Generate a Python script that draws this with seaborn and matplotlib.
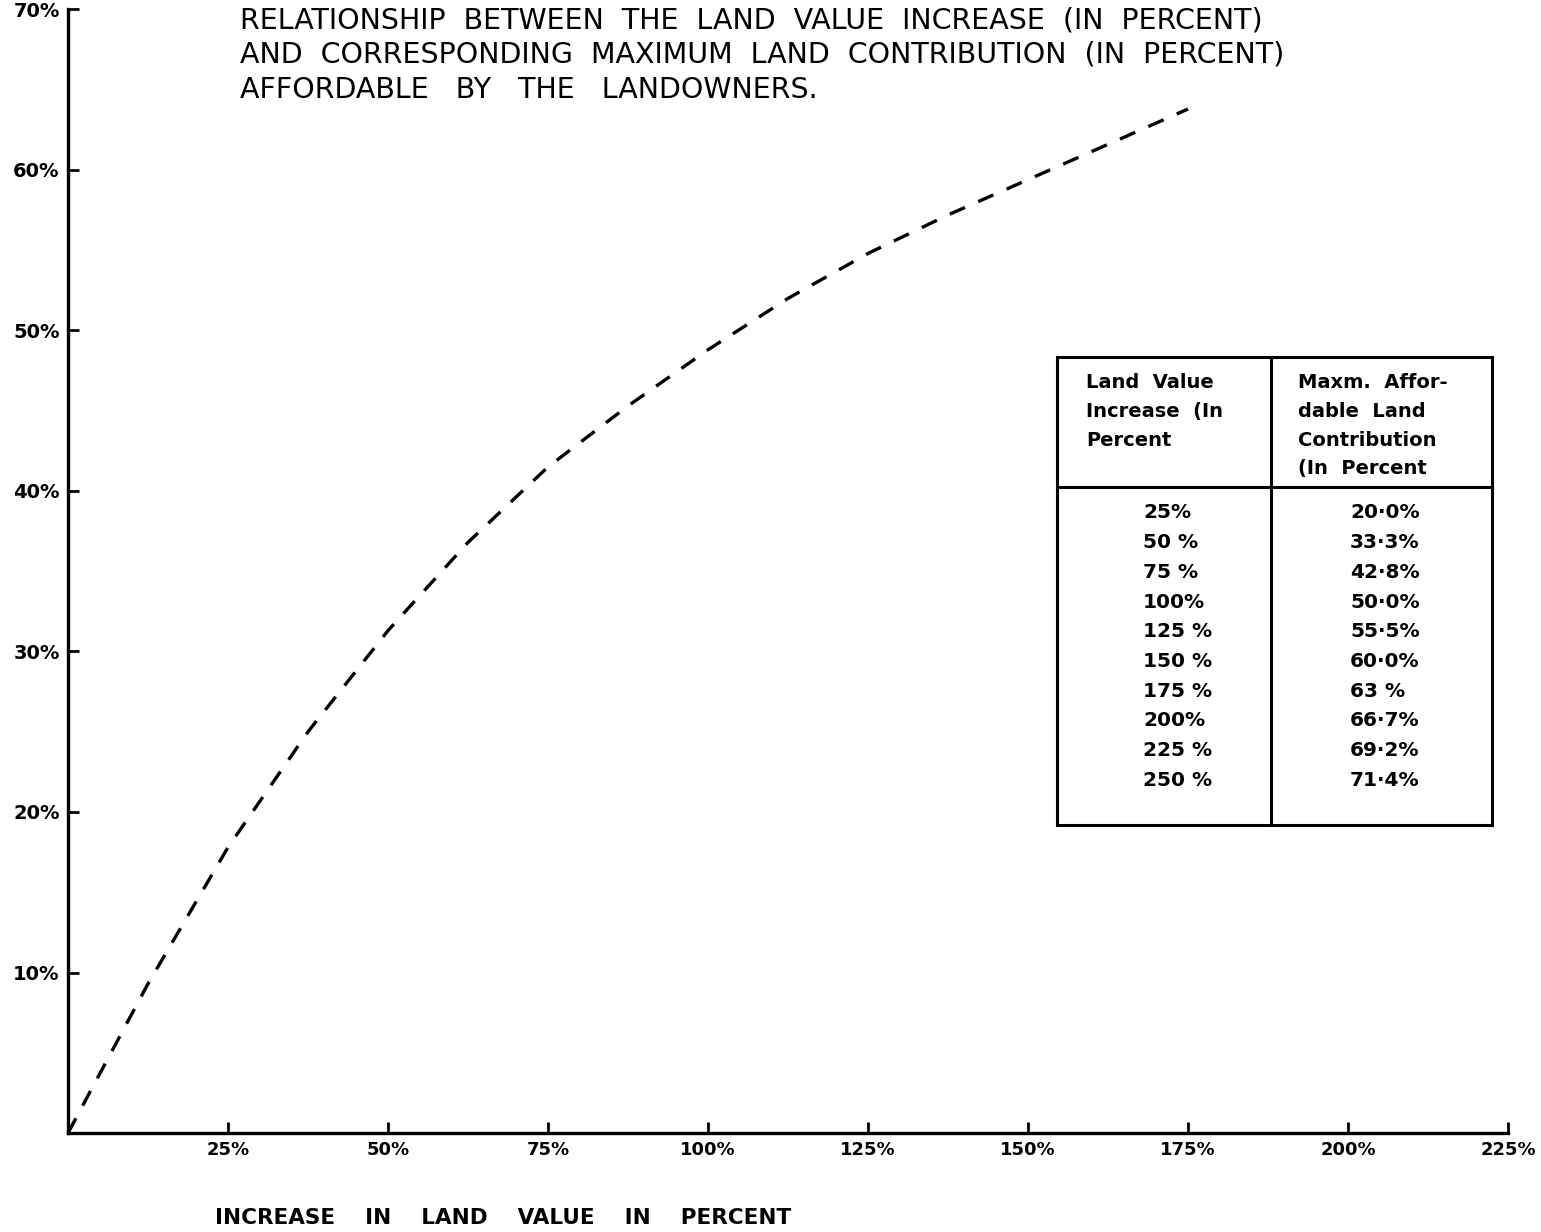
import matplotlib
matplotlib.use("Agg")
import matplotlib.pyplot as plt
from matplotlib.lines import Line2D
import seaborn as sns

# Curve (percent)
land_increase = [0, 12.5, 25, 37.5, 50, 62.5, 75, 87.5, 100, 112.5, 125, 137.5, 150, 162.5, 175]
max_contribution = [0, 9.3, 17.8, 25.0, 31.3, 36.8, 41.5, 45.3, 48.8, 52.0, 54.8, 57.2, 59.4, 61.6, 63.8]

x_ticks = [25, 50, 75, 100, 125, 150, 175, 200, 225]
y_ticks = [10, 20, 30, 40, 50, 60, 70]

# Inset table
table_head_left = ["Land  Value", "Increase  (In", "Percent"]
table_head_right = ["Maxm.  Affor-", "dable  Land", "Contribution", "(In  Percent"]
table_increase = ["25%", "50 %", "75 %", "100%", "125 %", "150 %", "175 %", "200%", "225 %", "250 %"]
table_contribution = ["20·0%", "33·3%", "42·8%", "50·0%", "55·5%", "60·0%", "63 %", "66·7%", "69·2%", "71·4%"]

title_lines = [
    "RELATIONSHIP  BETWEEN  THE  LAND  VALUE  INCREASE  (IN  PERCENT)",
    "AND  CORRESPONDING  MAXIMUM  LAND  CONTRIBUTION  (IN  PERCENT)",
    "AFFORDABLE   BY   THE   LANDOWNERS.",
]

W, H = 1541, 1232
sns.set_style("white")
plt.rcParams["font.family"] = ["DejaVu Sans"]
plt.rcParams["text.color"] = "black"
plt.rcParams["xtick.color"] = "black"
plt.rcParams["ytick.color"] = "black"

fig = plt.figure(figsize=(W / 100, H / 100), dpi=100)
ax = fig.add_axes([68 / W, 1 - 1133 / H, 1440 / W, 1123.5 / H])


def fx(px):
    return px / W


def fy(py):
    return 1 - py / H


sns.lineplot(x=land_increase, y=max_contribution, ax=ax, color="black",
             lw=2.4, linestyle=(0, (5, 4.3)), clip_on=False)

ax.set_xlim(0, 225)
ax.set_ylim(0, 70)
ax.set_xticks(x_ticks)
ax.set_xticklabels([f"{t}%" for t in x_ticks], fontsize=13, fontweight="bold")
ax.set_yticks(y_ticks)
ax.set_yticklabels([f"{t}%" for t in y_ticks], fontsize=14, fontweight="bold")
ax.tick_params(bottom=True, left=True, direction="in", length=8, width=2,
               color="black", labelcolor="black", pad=6)
ax.set_xlabel("")
ax.set_ylabel("")

for side in ["top", "right"]:
    ax.spines[side].set_visible(False)
for side in ["left", "bottom"]:
    ax.spines[side].set_linewidth(2.4)
    ax.spines[side].set_color("black")

# title block
for i, line in enumerate(title_lines):
    fig.text(fx(240), fy(20 + 35 * i), line, fontsize=20.5, ha="left", va="center")

fig.text(fx(215), fy(1218), "INCREASE    IN    LAND    VALUE    IN    PERCENT",
         fontsize=15.5, fontweight="bold", ha="left", va="center")

# table frame
left, mid, right = 1057, 1271, 1492
top, sep, bottom = 357, 487, 825
frame = [
    ([left, right], [top, top]),
    ([left, right], [sep, sep]),
    ([left, right], [bottom, bottom]),
    ([left, left], [top, bottom]),
    ([mid, mid], [top, bottom]),
    ([right, right], [top, bottom]),
]
for xs, ys in frame:
    fig.add_artist(Line2D([fx(v) for v in xs], [fy(v) for v in ys],
                          color="black", lw=2.2, solid_capstyle="projecting"))

for i, line in enumerate(table_head_left):
    fig.text(fx(1086), fy(383 + 28.5 * i), line, fontsize=14, fontweight="bold",
             ha="left", va="center")
for i, line in enumerate(table_head_right):
    fig.text(fx(1298), fy(383 + 28.5 * i), line, fontsize=14, fontweight="bold",
             ha="left", va="center")

for i, (a, b) in enumerate(zip(table_increase, table_contribution)):
    yy = fy(513 + 29.7 * i)
    fig.text(fx(1143), yy, a, fontsize=14.5, fontweight="bold", ha="left", va="center")
    fig.text(fx(1350), yy, b, fontsize=14.5, fontweight="bold", ha="left", va="center")

fig.savefig("out.png", dpi=100)
